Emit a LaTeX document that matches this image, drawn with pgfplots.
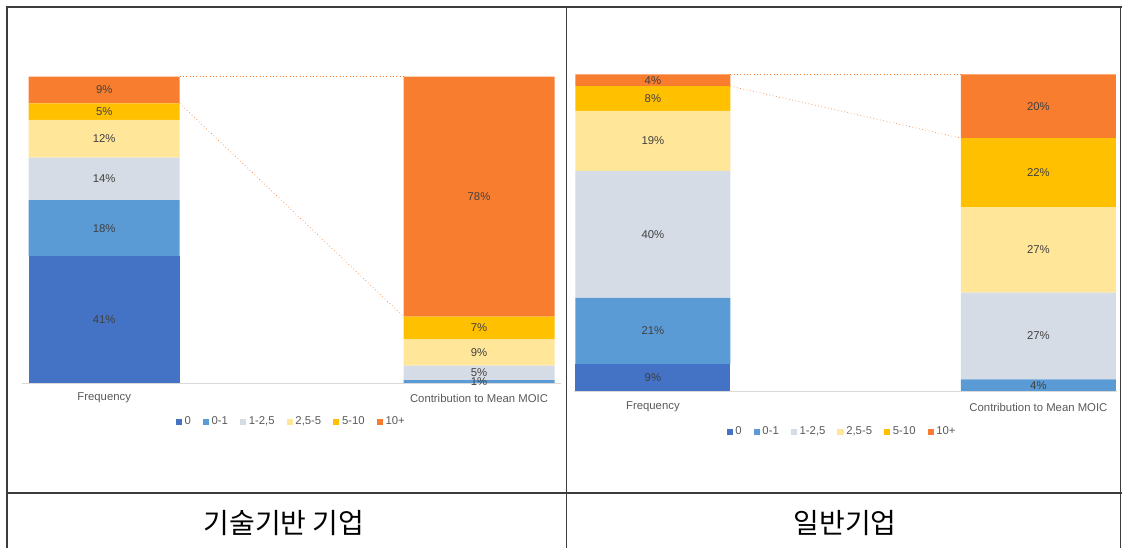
\documentclass[border=0pt]{standalone}
\usepackage{pgfplots}
\usepackage{pgfplotstable}
\pgfplotsset{compat=1.18}
\usepackage{fontspec}
\setmainfont{Liberation Sans}
\newfontfamily\krfont{Noto Sans CJK KR}
\definecolor{c0}{HTML}{4472C4}
\definecolor{c1}{HTML}{5B9BD5}
\definecolor{c2}{HTML}{D6DCE5}
\definecolor{c3}{HTML}{FFE699}
\definecolor{c4}{HTML}{FFC000}
\definecolor{c5}{HTML}{F97D2F}
\definecolor{lbl}{HTML}{404040}
\definecolor{axgray}{HTML}{595959}
\definecolor{framec}{HTML}{3C3C3C}

\pgfplotstableread{
x v0 v1 v2 v3 v4 v5
0 41.4 18.3 13.9 12.3 5.4 8.7
1 0 0.9 4.8 8.6 7.4 78.3
}\tableA
\pgfplotstableread{
x v0 v1 v2 v3 v4 v5
0 8.6 20.8 40.1 19.0 7.8 3.7
1 0 3.7 27.4 26.9 21.9 20.1
}\tableB

\pgfplotsset{
  legsq/.style={legend image code/.code={\fill[##1] (0pt,-2.3pt) rectangle (4.6pt,2.3pt);}},
  base/.style={
    scale only axis, anchor=south west, ymin=0, ymax=100,
    clip=false,
  },
  bars/.style={
    base, ybar stacked,
    axis y line=none, axis x line*=bottom,
    x axis line style={-, draw=black!15, line width=0.6pt},
    xtick={0,1}, xticklabels={Frequency, Contribution to Mean MOIC},
    major tick length=0pt,
    xticklabel style={font=\fontsize{8.5}{10}\selectfont, text=axgray, anchor=center},
    nodes near coords={\pgfmathfloatifflags{\pgfplotspointmeta}{0}{}{\pgfmathprintnumber[fixed,precision=0,assume math mode=true]{\pgfplotspointmeta}\%}},
    every node near coord/.append style={anchor=center, font=\fontsize{8.5}{10}\selectfont, text=lbl},
    legend columns=6,
    legend cell align=left,
    legend style={draw=none, fill=none, font=\fontsize{8.5}{10}\selectfont, text=axgray, anchor=center, inner sep=0pt,
      /tikz/every even column/.append style={column sep=7pt}},
  },
  sq/.style={fill=#1, draw=none, legsq},
}

\begin{document}
\begin{tikzpicture}
\useasboundingbox (0,0) rectangle (841.5pt,411pt);
% table frame
\draw[framec, line width=1pt] (5.25pt,0) -- (5.25pt,405.75pt) -- (841.5pt,405.75pt);
\draw[framec, line width=1pt] (424.9pt,0) -- (424.9pt,405.75pt);
\draw[framec, line width=1pt] (840.6pt,0) -- (840.6pt,405.75pt);
\draw[framec, line width=1pt] (5.25pt,41.25pt) -- (841.5pt,41.25pt);
\node[font=\krfont\fontsize{21}{25}\selectfont, text=black] at (213pt,18.5pt) {기술기반 기업};
\node[font=\krfont\fontsize{21}{25}\selectfont, text=black] at (633.75pt,18.5pt) {일반기업};

% ---- left chart: connectors
\begin{axis}[base, at={(16.3pt,123.75pt)}, width=404.8pt, height=229.7pt,
  xmin=-0.22, xmax=1.22, hide axis]
\addplot[c5, dotted, line width=0.5pt] coordinates {(0.2015,100) (0.7985,100)};
\addplot[c5, dotted, line width=0.5pt] coordinates {(0.2015,91.3) (0.7985,21.7)};
\end{axis}
% ---- left chart: bars
\begin{axis}[bars, at={(16.3pt,123.75pt)}, width=404.8pt, height=229.7pt,
  xmin=-0.22, xmax=1.22, bar width=113.25pt,
  xticklabel style={yshift=-11.25pt},
  legend style={at={(0.5,-0.127)}}]
\addplot[sq=c0] table[x=x,y=v0]{\tableA}; \addlegendentry{0}
\addplot[sq=c1] table[x=x,y=v1]{\tableA}; \addlegendentry{0-1}
\addplot[sq=c2] table[x=x,y=v2]{\tableA}; \addlegendentry{1-2,5}
\addplot[sq=c3] table[x=x,y=v3]{\tableA}; \addlegendentry{2,5-5}
\addplot[sq=c4] table[x=x,y=v4]{\tableA}; \addlegendentry{5-10}
\addplot[sq=c5] table[x=x,y=v5]{\tableA}; \addlegendentry{10+}
\end{axis}

% ---- right chart: connectors
\begin{axis}[base, at={(430.4pt,117.75pt)}, width=407.7pt, height=237.4pt,
  xmin=-0.205, xmax=1.205, hide axis]
\addplot[c5, dotted, line width=0.5pt] coordinates {(0.201,100) (0.799,100)};
\addplot[c5, dotted, line width=0.5pt] coordinates {(0.201,96.3) (0.799,79.9)};
\end{axis}
% ---- right chart: bars
\begin{axis}[bars, at={(430.4pt,117.75pt)}, width=407.7pt, height=237.4pt,
  xmin=-0.205, xmax=1.205, bar width=116.25pt,
  xticklabel style={yshift=-12pt},
  legend style={at={(0.494,-0.1295)}}]
\addplot[sq=c0] table[x=x,y=v0]{\tableB}; \addlegendentry{0}
\addplot[sq=c1] table[x=x,y=v1]{\tableB}; \addlegendentry{0-1}
\addplot[sq=c2] table[x=x,y=v2]{\tableB}; \addlegendentry{1-2,5}
\addplot[sq=c3] table[x=x,y=v3]{\tableB}; \addlegendentry{2,5-5}
\addplot[sq=c4] table[x=x,y=v4]{\tableB}; \addlegendentry{5-10}
\addplot[sq=c5] table[x=x,y=v5]{\tableB}; \addlegendentry{10+}
\end{axis}
\end{tikzpicture}
\end{document}
